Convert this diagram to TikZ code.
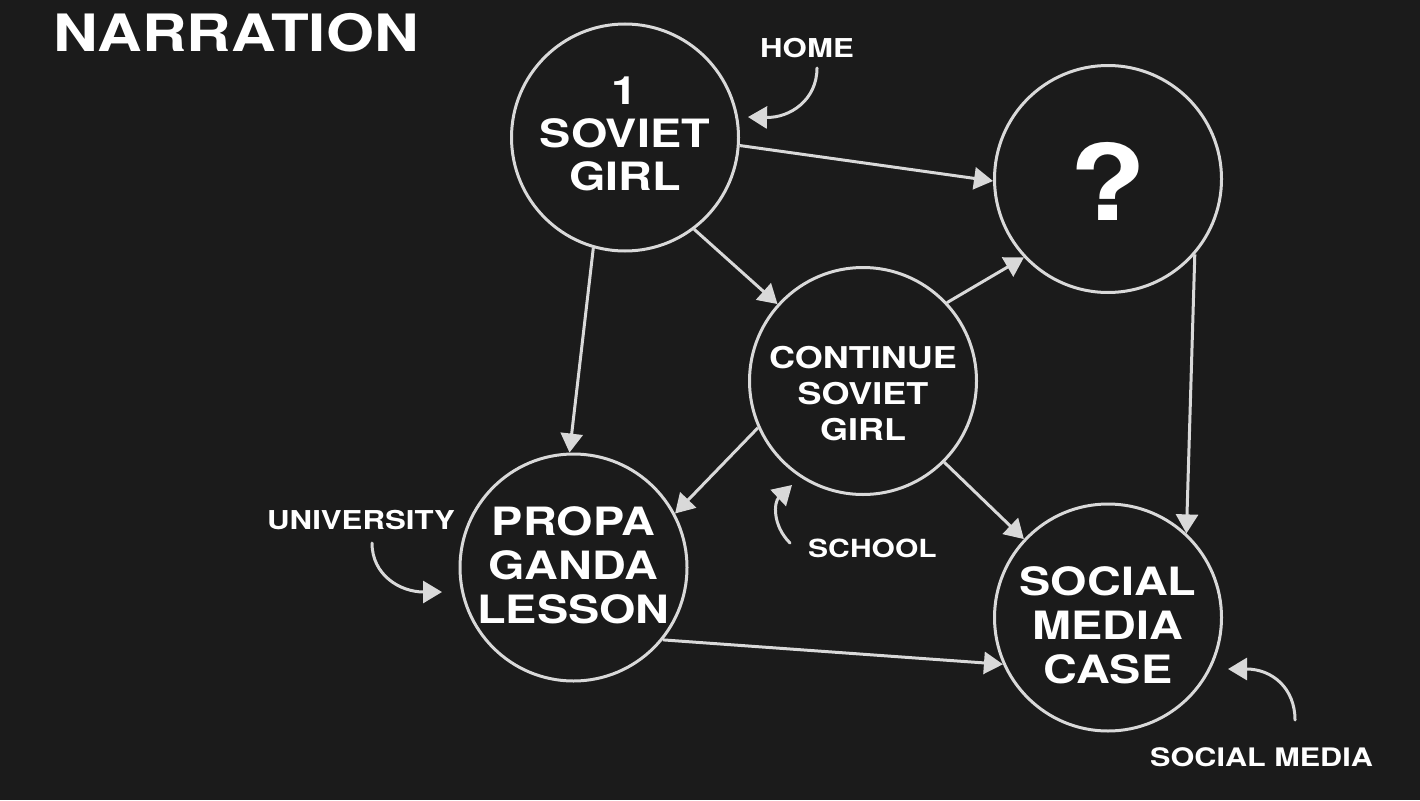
\documentclass[tikz,border=0pt]{standalone}
\usepackage{fontspec}
\setmainfont{TeX Gyre Heros}[FakeStretch=1.2]
\usetikzlibrary{arrows.meta}
\definecolor{bg}{HTML}{1B1B1B}
\definecolor{ln}{HTML}{D9D9D9}
\begin{document}
\begin{tikzpicture}[x=1pt,y=-1pt,
  bubble/.style={circle,draw=ln,line width=3pt,minimum size=227pt,inner sep=0pt},
  ctext/.style={text=white,align=center,inner sep=0pt},
  lbl/.style={text=white,inner sep=0pt,anchor=base west,font=\bfseries\fontsize{25.5}{30}\selectfont},
  conn/.style={draw=ln,line width=3pt,-{Triangle[length=19pt,width=22pt]}},
  cconn/.style={draw=ln,line width=3pt,line cap=round,-{Triangle[length=19pt,width=22pt]}}
]
\useasboundingbox (0,0) rectangle (1420,800);
\fill[bg] (0,0) rectangle (1420,800);

% title
\node[text=white,inner sep=0pt,anchor=base west,font=\bfseries\fontsize{51.5}{60}\selectfont] (title) at (53,52) {NARRATION};

% circles
\node[bubble] (A) at (625,137.5) {};
\node[bubble] (Q) at (1108,179) {};
\node[bubble] (C) at (863,381) {};
\node[bubble] (P) at (573.5,567.5) {};
\node[bubble] (S) at (1108,617.5) {};

% circle texts
\node[ctext,font=\bfseries\fontsize{39}{43}\selectfont] (At) at (625,134) {1\\SOVIET\\GIRL};
\node[ctext,font=\bfseries\fontsize{105}{110}\selectfont] (Qt) at (1108,181.5) {?};
\node[ctext,font=\bfseries\fontsize{30}{36}\selectfont] (Ct) at (863,393.5) {CONTINUE\\SOVIET\\GIRL};
\node[ctext,font=\bfseries\fontsize{39}{44}\selectfont] (Pt) at (573.5,565) {PROPA\\GANDA\\LESSON};
\node[ctext,font=\bfseries\fontsize{39}{44}\selectfont] (St) at (1108,625) {SOCIAL\\MEDIA\\CASE};

% connectors
\draw[conn] (A.-4.5) -- (Q.181.5);
\draw[conn] (A.-106.4) -- (P.92);
\draw[conn] (A.-53.7) -- (C.138.5);
\draw[conn] (C.43) -- (Q.223.2);
\draw[conn] (Q.-41.8) -- (S.47.5);
\draw[conn] (C.204) -- (P.28.4);
\draw[conn] (C.-45.4) -- (S.137.8);
\draw[conn] (P.-39.4) -- (S.204);

% side labels
\node[lbl,font=\bfseries\fontsize{26}{30}\selectfont] (home) at (760,57) {HOME};
\node[lbl,font=\bfseries\fontsize{26}{30}\selectfont] (univ) at (267,529) {UNIVERSITY};
\node[lbl,font=\bfseries\fontsize{25}{30}\selectfont] (school) at (808,557) {SCHOOL};
\node[lbl] (smedia) at (1150,766) {SOCIAL MEDIA};

\coordinate (h0) at (817,68);
\coordinate (h1) at (748,117);
\coordinate (u0) at (372,543);
\coordinate (u1) at (442,592);
\coordinate (s0) at (790,543);
\coordinate (s1) at (792,485);
\coordinate (m0) at (1295,720);
\coordinate (m1) at (1228,669);

\draw[cconn] (h0) .. controls (817,100) and (790,118) .. (h1);
\draw[cconn] (u0) .. controls (372,575) and (400,592) .. (u1);
\draw[cconn] (s0) .. controls (772,525) and (774,502) .. (s1);
\draw[cconn] (m0) .. controls (1295,688) and (1272,669) .. (m1);
\end{tikzpicture}
\end{document}
